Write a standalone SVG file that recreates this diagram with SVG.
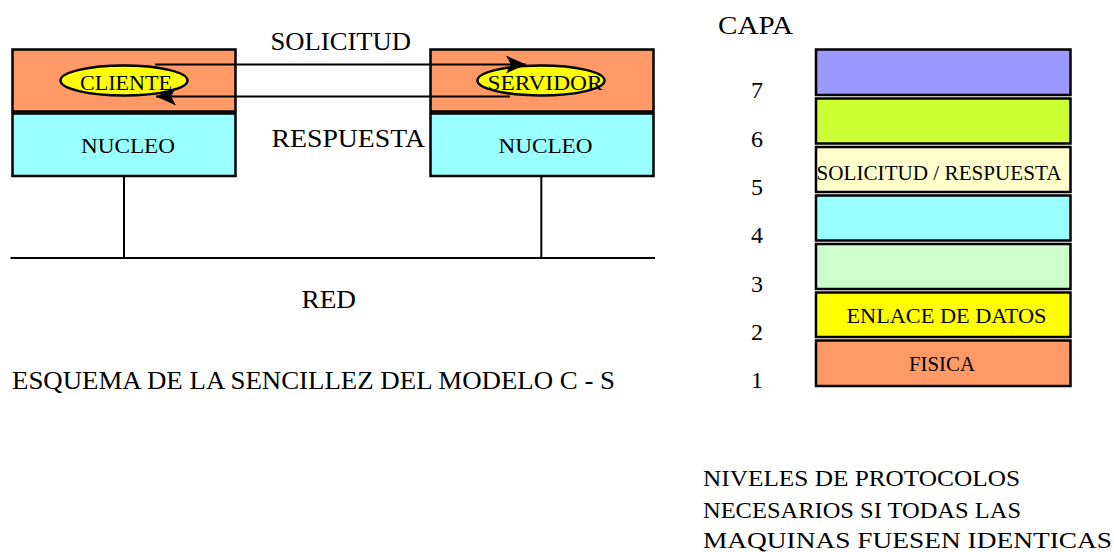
<svg xmlns="http://www.w3.org/2000/svg" width="1114" height="552" viewBox="0 0 1114 552">
<style>
  text { font-family: "Liberation Serif", "Times New Roman", serif; fill: #000; }
  .box { stroke: #000; stroke-width: 2.5; }
  .top { fill: #FF9966; }
  .nuc { fill: #99FFFF; }
  .ell { fill: #FFFF00; stroke: #000; stroke-width: 2.5; }
  .ln { stroke: #000; stroke-width: 2; fill: none; }
  .lay { stroke: #000; stroke-width: 2.5; }
  .big { font-size: 24px; }
  .mid { font-size: 20px; }
  .lbl { font-size: 21px; }
</style>
<defs>
  <marker id="arr" viewBox="0 0 20 20" refX="20" refY="10" markerWidth="20" markerHeight="20" markerUnits="userSpaceOnUse" orient="auto">
    <path d="M0,1 L20,10 L0,19 L5,10 Z" fill="#000"/>
  </marker>
</defs>
<rect width="1114" height="552" fill="#fff"/>

<g id="cliente-node">
  <rect class="box top" x="12.5" y="49.5" width="223" height="62"/>
  <rect class="box nuc" x="12.5" y="113.5" width="223" height="62.5"/>
  <ellipse class="ell" cx="124" cy="80.5" rx="63.5" ry="15"/>
  <text class="mid" x="126" y="89.5" text-anchor="middle" textLength="92" lengthAdjust="spacingAndGlyphs">CLIENTE</text>
  <text class="mid" x="128" y="152.5" text-anchor="middle" textLength="94" lengthAdjust="spacingAndGlyphs">NUCLEO</text>
</g>

<g id="servidor-node">
  <rect class="box top" x="430.5" y="49.5" width="223" height="62"/>
  <rect class="box nuc" x="430.5" y="113.5" width="223" height="62.5"/>
  <ellipse class="ell" cx="541" cy="80.5" rx="63.5" ry="15"/>
  <text class="mid" x="545" y="89.5" text-anchor="middle" textLength="115" lengthAdjust="spacingAndGlyphs">SERVIDOR</text>
  <text class="mid" x="545.5" y="152.5" text-anchor="middle" textLength="94" lengthAdjust="spacingAndGlyphs">NUCLEO</text>
</g>

<g id="connectors">
  <line class="ln" x1="155" y1="64.5" x2="526" y2="64.5" marker-end="url(#arr)"/>
  <line class="ln" x1="510" y1="96.5" x2="156" y2="96.5" marker-end="url(#arr)"/>
  <line class="ln" x1="124" y1="176" x2="124" y2="258"/>
  <line class="ln" x1="541.3" y1="176" x2="541.3" y2="258"/>
  <line class="ln" x1="10.5" y1="258" x2="655" y2="258"/>
</g>

<g id="labels-left">
  <text x="270.5" y="50" font-size="26" textLength="140.5" lengthAdjust="spacingAndGlyphs">SOLICITUD</text>
  <text x="271.5" y="146.5" font-size="25" textLength="153.5" lengthAdjust="spacingAndGlyphs">RESPUESTA</text>
  <text x="301.5" y="308" font-size="25" textLength="54.5" lengthAdjust="spacingAndGlyphs">RED</text>
  <text x="12" y="389" font-size="26" textLength="603" lengthAdjust="spacingAndGlyphs">ESQUEMA DE LA SENCILLEZ DEL MODELO C - S</text>
</g>

<g id="capa-stack">
  <text x="718" y="33.5" font-size="25" textLength="75" lengthAdjust="spacingAndGlyphs">CAPA</text>
  <g id="layer7"><rect class="lay" x="816" y="49.5" width="254.5" height="45.5" fill="#9999FF"/></g>
  <g id="layer6"><rect class="lay" x="816" y="98.5" width="254.5" height="45" fill="#CCFF33"/></g>
  <g id="layer5"><rect class="lay" x="816" y="147" width="254.5" height="45" fill="#FFFFCC"/>
    <text x="816.5" y="180" class="lbl" textLength="245" lengthAdjust="spacingAndGlyphs">SOLICITUD / RESPUESTA</text></g>
  <g id="layer4"><rect class="lay" x="816" y="195.5" width="254.5" height="45" fill="#99FFFF"/></g>
  <g id="layer3"><rect class="lay" x="816" y="244" width="254.5" height="45" fill="#CCFFCC"/></g>
  <g id="layer2"><rect class="lay" x="816" y="292.5" width="254.5" height="44.5" fill="#FFFF00"/>
    <text x="846.5" y="322.5" class="lbl" textLength="200" lengthAdjust="spacingAndGlyphs">ENLACE DE DATOS</text></g>
  <g id="layer1"><rect class="lay" x="816" y="340.5" width="254.5" height="45.5" fill="#FF9966"/>
    <text x="909" y="370.5" class="lbl" textLength="66" lengthAdjust="spacingAndGlyphs">FISICA</text></g>
  <g id="layer-numbers" class="big" text-anchor="middle">
    <text x="757" y="98">7</text>
    <text x="757" y="147">6</text>
    <text x="757" y="194.5">5</text>
    <text x="757" y="243">4</text>
    <text x="757" y="292">3</text>
    <text x="757" y="339.5">2</text>
    <text x="757" y="388">1</text>
  </g>
</g>

<g id="caption-right" class="big">
  <text x="703" y="485.5" textLength="317" lengthAdjust="spacingAndGlyphs">NIVELES DE PROTOCOLOS</text>
  <text x="703" y="517.5" textLength="318" lengthAdjust="spacingAndGlyphs">NECESARIOS SI TODAS LAS</text>
  <text x="703" y="548" textLength="409" lengthAdjust="spacingAndGlyphs">MAQUINAS FUESEN IDENTICAS</text>
</g>
</svg>
